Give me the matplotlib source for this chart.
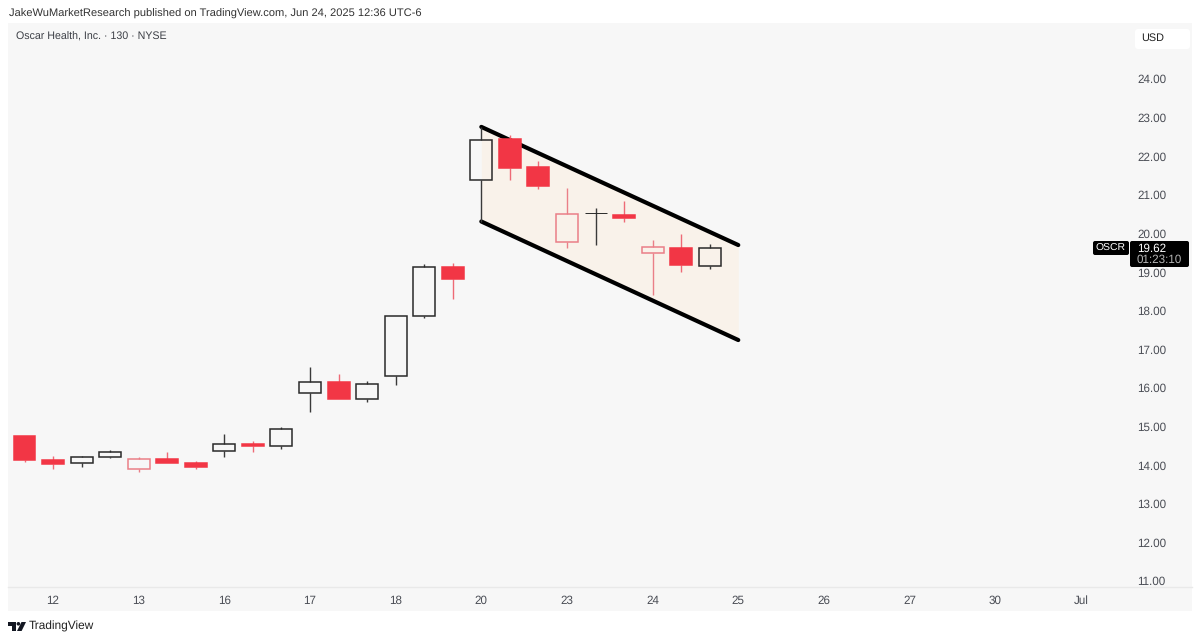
import matplotlib
matplotlib.use('Agg')
import matplotlib.pyplot as plt
from matplotlib.patches import Rectangle, Polygon, Circle, FancyBboxPatch

plt.rcParams['font.family'] = ['Liberation Sans', 'DejaVu Sans']
plt.rcParams['text.hinting'] = 'no_hinting'

# OHLC, 130 minute bars
opens = [14.76, 14.13, 14.06, 14.22, 13.89, 14.16, 14.06, 14.37, 14.55, 14.50, 15.88, 16.15, 15.71,
         16.31, 17.85, 19.14, 21.38, 22.45, 21.71, 19.79, 20.52, 20.48, 19.50, 19.63, 19.17]
highs = [14.76, 14.24, 14.24, 14.39, 14.22, 14.34, 14.11, 14.81, 14.63, 15.00, 16.53, 16.37, 16.18,
         17.86, 19.21, 19.24, 22.76, 22.55, 21.88, 21.19, 20.67, 20.84, 19.83, 19.99, 19.72]
lows = [14.08, 13.90, 13.95, 14.19, 13.82, 14.05, 13.90, 14.21, 14.35, 14.43, 15.38, 15.71, 15.64,
        16.08, 17.81, 18.31, 20.30, 21.38, 21.16, 19.62, 19.70, 20.29, 18.40, 18.99, 19.07]
closes = [14.13, 14.04, 14.22, 14.34, 14.17, 14.06, 13.95, 14.55, 14.49, 14.94, 16.16, 15.71, 16.10,
          17.86, 19.12, 18.81, 22.43, 21.70, 21.23, 20.50, 20.52, 20.39, 19.64, 19.18, 19.62]

# falling channel
channel_x = [16, 25]
channel_upper = [22.76, 19.70]
channel_lower = [20.31, 17.24]

price_ticks = [11, 12, 13, 14, 15, 16, 17, 18, 19, 20, 21, 22, 23, 24]
date_ticks = [1, 4, 7, 10, 13, 16, 19, 22, 25, 28, 31, 34, 37]
date_labels = ['12', '13', '16', '17', '18', '20', '23', '24', '25', '26', '27', '30', 'Jul']

RED = '#f23645'
RED_LIGHT = '#ea7f88'
DARK = '#2a2a2a'
TEXT = '#4a4d55'
W, H = 1200, 641

fig = plt.figure(figsize=(12, 6.41), dpi=100, facecolor='white')

# grey chart panel
fig.add_artist(Rectangle((8 / W, 1 - 611 / H), 1184 / W, 588 / H, transform=fig.transFigure,
                         facecolor='#f7f7f7', edgecolor='none', zorder=-1))

ax = fig.add_axes([8 / W, 1 - 587 / H, 1120 / W, 564 / H], facecolor='none', zorder=1)
ax.set_xlim(-0.578, 38.65)
ax.set_ylim(10.845, 25.45)
for side in ['top', 'left', 'right', 'bottom']:
    ax.spines[side].set_visible(False)

ax.yaxis.tick_right()
ax.set_yticks(price_ticks)
ax.set_yticklabels(['%.2f' % p for p in price_ticks])
ax.set_xticks(date_ticks)
ax.set_xticklabels(date_labels)
ax.tick_params(axis='y', length=0, pad=6.5, labelsize=8.4, labelcolor=TEXT)
ax.tick_params(axis='x', length=0, pad=6, labelsize=8.4, labelcolor=TEXT)

# channel
ax.fill_between(channel_x, channel_lower, channel_upper, color='#f9f2ea', lw=0, zorder=1)
ax.plot(channel_x, channel_upper, color='black', lw=3, solid_capstyle='round', zorder=2)
ax.plot(channel_x, channel_lower, color='black', lw=3, solid_capstyle='round', zorder=2)

# hollow candles: filled when close < open, colour follows the previous close
body_w = 0.77
for i in range(len(opens)):
    o, h, l, c = opens[i], highs[i], lows[i], closes[i]
    prev = closes[i - 1] if i > 0 else o
    down = c < prev
    top, bottom = max(o, c), min(o, c)
    filled = c < o
    if filled:
        edge, wick = RED, '#ee6a76'
    elif down:
        edge, wick = RED_LIGHT, RED_LIGHT
    else:
        edge, wick = DARK, '#3a3a3a'
    ax.vlines(i, top, h, color=wick, lw=1.0, zorder=3)
    ax.vlines(i, l, bottom, color=wick, lw=1.0, zorder=3)
    ax.add_patch(Rectangle((i - body_w / 2, bottom), body_w, top - bottom, zorder=4,
                           facecolor=RED if filled else 'none', edgecolor=edge,
                           lw=0.7 if top == bottom else 1.1))

# page layer in pixel coordinates for labels and logo
page = fig.add_axes([0, 0, 1, 1], facecolor='none', zorder=2)
page.set_xlim(0, W)
page.set_ylim(H, 0)
page.axis('off')

page.plot([8, 1192], [587, 587], color='#e9e9e9', lw=1)

page.text(9, 14, 'JakeWuMarketResearch published on TradingView.com, Jun 24, 2025 12:36 UTC-6',
          fontsize=8.0, color='#333333', va='center')
page.text(16, 37, 'Oscar Health, Inc. · 130 · NYSE', fontsize=7.65, color='#3c3f46', va='center')

page.add_patch(FancyBboxPatch((1135, 29), 55, 20, boxstyle='round,pad=0,rounding_size=3',
                              facecolor='white', edgecolor='none'))
page.text(1141, 38, 'USD', fontsize=7.8, color='#222222', va='center')

page.add_patch(FancyBboxPatch((1093, 241), 36, 14, boxstyle='round,pad=0,rounding_size=2',
                              facecolor='black', edgecolor='none'))
page.add_patch(FancyBboxPatch((1130, 241), 59, 26, boxstyle='round,pad=0,rounding_size=2',
                              facecolor='black', edgecolor='none'))
page.text(1111, 248.5, 'OSCR', fontsize=7.5, color='white', va='center', ha='center')
page.text(1137, 248.5, '19.62', fontsize=8.4, color='white', va='center')
page.text(1137, 260, '01:23:10', fontsize=8.4, color='#b5b5b5', va='center')

# TradingView logo
page.add_patch(Polygon([(8, 622), (15.5, 622), (15.5, 631), (11.8, 631), (11.8, 625.5), (8, 625.5)],
                       facecolor='#131722', edgecolor='none'))
page.add_patch(Circle((18.4, 623.8), 1.8, facecolor='#131722', edgecolor='none'))
page.add_patch(Polygon([(21.5, 622), (26, 622), (21.6, 631), (17, 631)],
                       facecolor='#131722', edgecolor='none'))
page.text(29, 626.5, 'TradingView', fontsize=8.6, color='#222222', va='center')

fig.savefig('out.png', dpi=100)
